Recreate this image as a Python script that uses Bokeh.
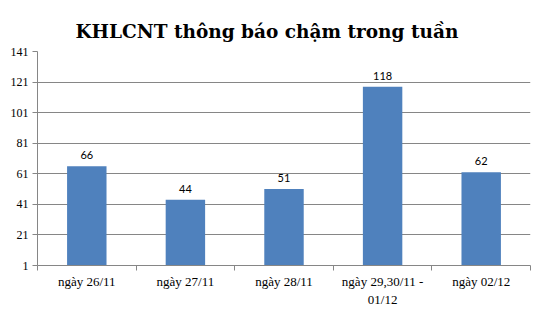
from bokeh.plotting import figure
from bokeh.models import ColumnDataSource, FixedTicker, Range1d, Title
from bokeh.core.properties import value
from bokeh.embed import file_html
from bokeh.resources import INLINE

categories = ["ngày 26/11", "ngày 27/11", "ngày 28/11", "ngày 29,30/11 -\n01/12", "ngày 02/12"]
counts = [66, 44, 51, 118, 62]
y_ticks = [1, 21, 41, 61, 81, 101, 121, 141]

xs = list(range(1, len(categories) + 1))
src = ColumnDataSource(dict(x=xs, top=counts, lbl=[str(c) for c in counts]))

title = Title(text="KHLCNT thông báo chậm trong tuần", align="left", offset=38,
              text_font="DejaVu Serif", text_font_size="18.5px",
              text_font_style="bold", text_color="black", standoff=19)

p = figure(width=541, height=309, output_backend="svg", toolbar_location=None,
           title=title,
           x_range=Range1d(0.5, len(categories) + 0.5), y_range=Range1d(y_ticks[0], y_ticks[-1]),
           min_border_left=37, min_border_right=11, min_border_top=51, min_border_bottom=10)
p.outline_line_color = None
p.background_fill_color = "white"
p.border_fill_color = "white"

p.vbar(x="x", top="top", bottom=y_ticks[0], width=0.4, source=src,
       fill_color="#4F81BD", line_color=None)
p.text(x="x", y="top", text="lbl", source=src, text_align="center", text_baseline="bottom",
       y_offset=-7, text_font=value("Lato"), text_font_size="11px", text_color="black")

# y axis
p.yaxis.ticker = FixedTicker(ticks=y_ticks, minor_ticks=[])
p.yaxis.major_label_text_font = "Liberation Serif"
p.yaxis.major_label_text_font_size = "12px"
p.yaxis.major_label_text_color = "black"
p.yaxis.axis_line_color = "#868686"
p.yaxis.major_tick_line_color = "#868686"
p.yaxis.major_tick_out = 5
p.yaxis.major_tick_in = 0
p.yaxis.major_label_standoff = 4

# x axis
p.xaxis.ticker = FixedTicker(ticks=xs, minor_ticks=[i + 0.5 for i in range(0, len(categories) + 1)])
p.xaxis.major_label_overrides = {x: c for x, c in zip(xs, categories)}
p.xaxis.major_label_text_font = "Liberation Serif"
p.xaxis.major_label_text_font_size = "13px"
p.xaxis.major_label_text_color = "black"
p.xaxis.axis_line_color = "#868686"
p.xaxis.major_tick_line_color = None
p.xaxis.minor_tick_line_color = "#868686"
p.xaxis.minor_tick_out = 5
p.xaxis.minor_tick_in = 0
p.xaxis.major_label_standoff = 2

p.xgrid.grid_line_color = None
p.ygrid.grid_line_color = "#868686"
p.ygrid.ticker = FixedTicker(ticks=y_ticks)

open("out.html", "w").write(file_html(p, INLINE))
